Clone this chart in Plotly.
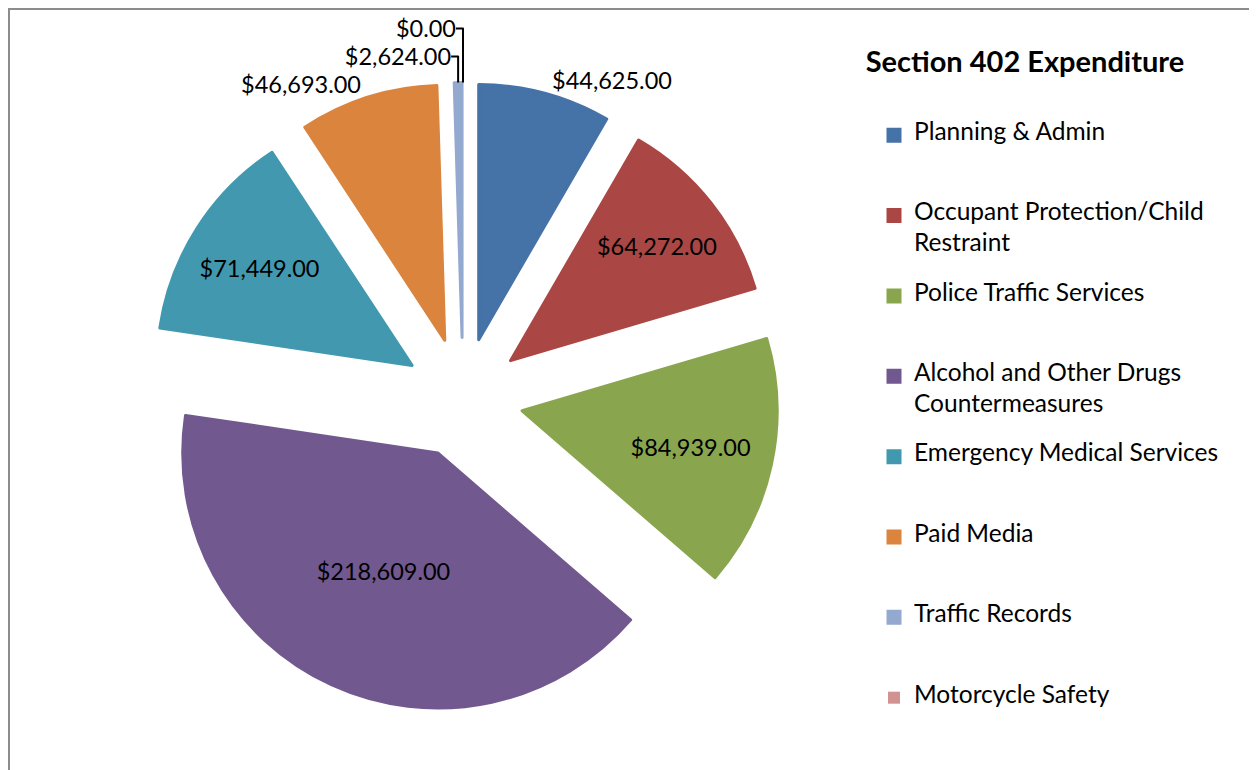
import plotly.graph_objects as go

categories = [
    "Planning & Admin",
    "Occupant Protection/Child<br>Restraint",
    "Police Traffic Services",
    "Alcohol and Other Drugs<br>Countermeasures",
    "Emergency Medical Services",
    "Paid Media",
    "Traffic Records",
    "Motorcycle Safety",
]
values = [44625, 64272, 84939, 218609, 71449, 46693, 2624, 0]
colors = ["#4572A7", "#AA4643", "#89A54E", "#71588F", "#4198AF", "#DB843D", "#93A9CF", "#D19392"]
label_positions = ["outside", "inside", "inside", "inside", "inside", "outside", "outside", "outside"]

# Legend entries: text drawn at 24.5px inside a small base font so that each
# entry occupies a fixed 5-line slot (uniform spacing), wrapped lines skip one slot line.
SPAN = '<span style="font-size:24.5px">%s</span>'
legend_labels = []
for i, c in enumerate(categories):
    parts = c.split("<br>")
    if len(parts) == 1:
        lines = [parts[0], " ", " ", " ", " "]
    else:
        lines = [parts[0], " ", parts[1], " ", " "]
    if i == len(categories) - 1:
        lines = [parts[0]]
    legend_labels.append("<br>".join(SPAN % l if l.strip() else " " for l in lines))

# slice outline (same colour as fill) only enlarges the legend swatches;
# no outline for empty slices so they leave no visible sliver
line_widths = [3 if v > 0 else 0 for v in values]

# page has an 8px body margin, figure coordinates = page coordinates - 8
OFF = 8
W, H = 1257 - OFF, 770 - OFF
FONT = "Lato, 'Open Sans', sans-serif"


def px_x(p):
    return (p - OFF) / W


def px_y(p):
    return 1 - (p - OFF) / H


fig = go.Figure(go.Pie(
    labels=legend_labels,
    values=values,
    sort=False,
    direction="clockwise",
    rotation=0,
    pull=0.237,
    marker=dict(colors=colors, line=dict(width=line_widths, color=colors)),
    texttemplate="$%{value:,.2f}",
    textposition=label_positions,
    insidetextorientation="horizontal",
    textfont=dict(family=FONT, size=23.5, color="#000000"),
    domain=dict(x=[px_x(147.5), px_x(778.5)], y=[px_y(713.5), px_y(82.5)]),
    hoverinfo="value",
))

fig.update_layout(
    width=W, height=H,
    margin=dict(l=0, r=0, t=0, b=0, autoexpand=False),
    paper_bgcolor="white",
    plot_bgcolor="white",
    font=dict(family=FONT, color="#000000"),
    title=dict(
        text="<b>Section 402 Expenditure</b>",
        x=px_x(1025), xanchor="center",
        y=px_y(62), yanchor="middle",
        font=dict(family=FONT, size=29, color="#000000"),
    ),
    legend=dict(
        x=px_x(874), xanchor="left",
        y=px_y(121), yanchor="top",
        valign="top",
        font=dict(family=FONT, size=11.9, color="#000000"),
        tracegroupgap=0,
        bgcolor="rgba(0,0,0,0)",
    ),
    showlegend=True,
    shapes=[dict(
        type="rect", xref="paper", yref="paper",
        x0=px_x(9), x1=px_x(1255), y0=-0.05, y1=px_y(9),
        line=dict(color="#8c8c8c", width=2),
        fillcolor="rgba(0,0,0,0)",
    )],
)

fig.write_html("out.html")
